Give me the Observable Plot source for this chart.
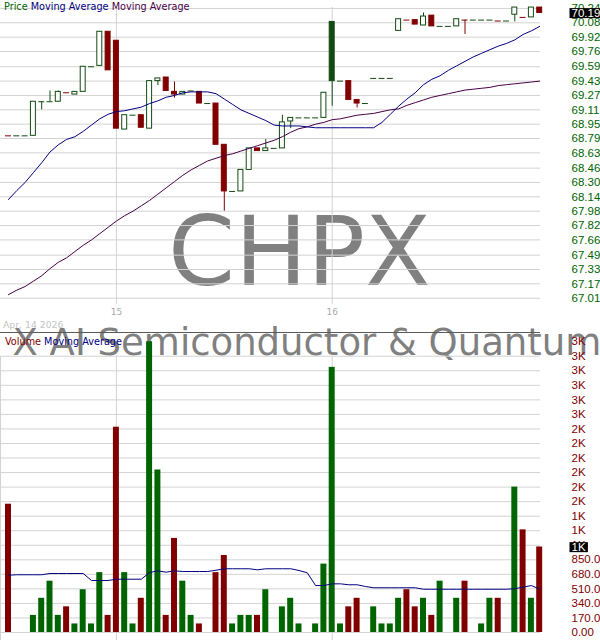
<!DOCTYPE html>
<html>
<head>
<meta charset="utf-8">
<script src="https://cdn.jsdelivr.net/npm/d3@7"></script>
<script src="https://cdn.jsdelivr.net/npm/@observablehq/plot@0.6"></script>
<style>
  html, body { margin: 0; padding: 0; background: #fff; }
  #chart { position: relative; width: 600px; height: 640px; overflow: hidden; background: #fff; }
  #chart > * { position: absolute; left: 0; }
  #bg { top: 0; z-index: 0; }
  #pricePanel { top: 0; z-index: 1; }
  #volumePanel { top: 332px; z-index: 1; border-top: 1px solid #5a5a5a; width: 540px; }
  #volumePanel svg { width: 600px; max-width: none; }
  #fg { top: 0; z-index: 2; pointer-events: none; }
</style>
</head>
<body>
<div id="chart"></div>
<script>
// ---------------- data (15-minute candles, CHPX) ----------------
const ticker = "CHPX";
const fundName = "X AI Semiconductor & Quantum";
const startDate = "Apr, 14 2026";
const dayTicks = [13, 39];
const dayLabels = ["15", "16"];
const priorClose = 68.85;

const open  = [68.82,68.82,68.82,68.82,69.20,69.20,69.20,69.30,69.28,69.31,69.59,69.60,69.98,69.88,68.89,69.05,69.05,68.90,69.43,69.47,
               69.31,69.28,69.32,69.31,69.18,69.18,68.72,68.20,68.20,68.44,68.68,68.65,68.68,68.68,68.98,69.02,69.02,69.02,69.02,70.09,
               69.43,69.43,69.22,69.18,69.46,69.46,69.46,69.99,70.11,70.11,70.05,70.16,70.04,70.04,70.04,70.11,70.11,70.11,70.11,70.10,
               70.10,70.17,70.14,70.14,70.25];
const high  = [68.82,68.82,68.82,69.20,69.20,69.32,69.32,69.30,69.31,69.59,69.59,69.98,69.98,69.88,69.05,69.05,69.05,69.43,69.46,69.47,
               69.42,69.31,69.32,69.31,69.18,69.18,68.72,68.20,68.44,68.68,68.68,68.78,68.68,69.05,69.02,69.02,69.02,69.02,69.30,70.09,
               69.43,69.43,69.22,69.18,69.46,69.46,69.46,70.12,70.11,70.11,70.19,70.16,70.04,70.04,70.12,70.11,70.11,70.11,70.11,70.10,
               70.10,70.25,70.14,70.25,70.25];
const low   = [68.82,68.82,68.82,68.82,69.11,69.20,69.20,69.30,69.28,69.31,69.59,69.60,69.55,68.90,68.89,69.05,68.91,68.90,69.38,69.32,
               69.24,69.28,69.32,69.18,69.18,68.72,67.98,68.20,68.20,68.44,68.65,68.65,68.68,68.68,68.90,69.02,69.02,69.02,69.02,69.15,
               69.43,69.22,69.13,69.18,69.46,69.46,69.46,69.99,70.11,70.06,70.05,70.04,70.04,70.04,70.04,69.95,70.11,70.11,70.11,70.10,
               70.10,70.09,70.14,70.14,70.19];
const close = [68.82,68.82,68.82,69.20,69.20,69.20,69.31,69.30,69.31,69.59,69.59,69.98,69.55,68.90,69.05,69.05,68.91,69.43,69.46,69.32,
               69.28,69.31,69.32,69.18,69.18,68.72,68.20,68.20,68.44,68.68,68.65,68.68,68.68,68.97,69.02,69.02,69.02,69.02,69.30,69.43,
               69.43,69.22,69.18,69.18,69.46,69.46,69.46,70.12,70.11,70.06,70.15,70.04,70.04,70.04,70.12,70.11,70.11,70.11,70.11,70.10,
               70.10,70.25,70.14,70.25,70.19];
const maShort = [68.11,68.21,68.30,68.41,68.52,68.64,68.72,68.78,68.81,68.87,68.94,69.01,69.06,69.09,69.10,69.12,69.14,69.18,69.21,69.25,
                 69.27,69.30,69.31,69.31,69.31,69.29,69.23,69.17,69.11,69.07,69.03,68.99,68.94,68.93,68.93,68.93,68.92,68.91,68.91,68.91,
                 68.91,68.91,68.91,68.91,68.91,68.97,69.06,69.15,69.23,69.30,69.39,69.45,69.49,69.55,69.60,69.65,69.70,69.74,69.78,69.82,
                 69.85,69.89,69.95,69.99,70.04];
const maLong  = [67.05,67.10,67.14,67.20,67.26,67.34,67.41,67.46,67.53,67.60,67.66,67.73,67.80,67.87,67.93,67.98,68.04,68.10,68.17,68.24,
                 68.31,68.38,68.44,68.49,68.54,68.57,68.60,68.62,68.65,68.68,68.71,68.74,68.77,68.81,68.86,68.90,68.92,68.95,68.97,69.00,
                 69.01,69.03,69.05,69.06,69.07,69.09,69.11,69.12,69.16,69.19,69.22,69.25,69.27,69.29,69.31,69.33,69.34,69.35,69.36,69.38,
                 69.39,69.40,69.41,69.42,69.43];
const volume = [1500,0,0,200,400,600,200,300,100,500,100,700,200,2400,700,100,400,3400,1900,200,
                1100,600,200,100,0,700,900,100,200,200,200,500,0,300,400,100,0,100,800,3100,
                100,300,400,0,300,100,100,400,500,300,400,200,600,0,400,600,0,100,400,400,
                0,1700,1200,400,1000];
const volumeMA = [670,675,675,675,675,690,690,690,690,690,608,608,608,623,623,623,623,701,721,705,
                  721,713,713,713,713,728,745,745,745,745,733,745,745,745,745,725,698,549,549,569,
                  569,558,558,538,523,523,523,523,523,523,506,506,506,506,506,506,506,506,506,506,
                  506,512,530,549,506];
const priceTicks = [67.01,67.17,67.33,67.49,67.66,67.82,67.98,68.14,68.30,68.46,68.63,68.79,68.95,69.11,69.27,69.43,69.59,69.76,69.92,70.08,70.24];
const volumeTicks = [0,170,340,510,680,850,1020,1190,1360,1530,1700,1870,2040,2210,2380,2550,2720,2890,3060,3230,3400];

// ---------------- styling ----------------
const G = "#124a12", R = "#800000", VG = "#006400";
const GRID = "#d3d3d3";
const fmtVol = v => v < 1000 ? v.toFixed(2) : Math.round(v / 1000) + "K";

const bars = close.map((c, i) => {
  const prev = i ? close[i - 1] : priorClose;
  return {i, o: open[i], h: high[i], l: low[i], c, v: volume[i],
          up: c >= prev, hollow: c > open[i], flat: c === open[i]};
});
const xScale = {type: "linear", domain: [-0.5, 64.5], range: [3.85, 543.35]};
const baseStyle = {fontFamily: "'Liberation Sans', Arial, sans-serif", fontSize: "11.5px", background: "transparent", overflow: "visible"};

const chart = document.getElementById("chart");
const NS = "http://www.w3.org/2000/svg";

// background layer: watermarks + date
const bg = d3.select(chart).append("svg").attr("id", "bg").attr("width", 600).attr("height", 640);
bg.append("text").text(ticker).attr("x", 168).attr("y", 285)
  .attr("font-family", "DejaVu Sans").attr("font-size", 96).attr("fill", "#808080");
bg.append("text").text(fundName).attr("x", 12.5).attr("y", 355)
  .attr("font-family", "DejaVu Sans").attr("font-size", 37).attr("fill", "#808080");
bg.append("text").text(startDate).attr("x", 3).attr("y", 328)
  .attr("font-family", "DejaVu Sans").attr("font-size", 9.3).attr("fill", "#c4c4c4");

// price panel
const pricePlot = Plot.plot({
  width: 600, height: 332,
  marginLeft: 0, marginRight: 60, marginTop: 7, marginBottom: 28,
  style: baseStyle,
  x: xScale,
  y: {domain: [67.01, 70.08], range: [297.7, 22.3]},
  color: {type: "identity"},
  marks: [
    Plot.gridY(priceTicks, {stroke: GRID, strokeOpacity: 1}),
    Plot.gridX(dayTicks, {stroke: GRID, strokeOpacity: 1}),
    Plot.axisX(dayTicks, {tickSize: 0, tickPadding: 4, tickFormat: d => dayLabels[dayTicks.indexOf(d)],
                          color: "#a8a8a8", fontFamily: "DejaVu Sans", fontSize: 9, label: null}),
    Plot.axisY(priceTicks, {anchor: "right", tickSize: 0, tickPadding: 31, tickFormat: d => d.toFixed(2),
                            color: "#006400", label: null}),
    Plot.ruleX(bars, {x: "i", y1: "l", y2: "h", stroke: d => d.up ? G : R, strokeWidth: 1}),
    Plot.rect(bars.filter(d => !d.flat), {x1: d => d.i - 0.3, x2: d => d.i + 0.3, y1: "o", y2: "c",
      fill: d => d.hollow ? "white" : (d.up ? G : R), stroke: d => d.up ? G : R, strokeWidth: 1}),
    Plot.ruleY(bars.filter(d => d.flat), {y: "c", x1: d => d.i - 0.36, x2: d => d.i + 0.36,
      stroke: d => d.up ? G : R, strokeWidth: 1}),
    Plot.line(maLong, {x: (d, i) => i, y: d => d, stroke: "#4a0048", strokeWidth: 1}),
    Plot.line(maShort, {x: (d, i) => i, y: d => d, stroke: "#000080", strokeWidth: 1}),
    Plot.text([close[close.length - 1]], {y: d => d, frameAnchor: "right", dx: 31, textAnchor: "start",
      text: d => d.toFixed(2), fill: "white"})
  ]
});
const pDiv = document.createElement("div"); pDiv.id = "pricePanel"; pDiv.appendChild(pricePlot); chart.appendChild(pDiv);

// volume panel
const volumePlot = Plot.plot({
  width: 600, height: 307,
  marginLeft: 0, marginRight: 60, marginTop: 23, marginBottom: 0,
  style: baseStyle,
  x: {...xScale, axis: null},
  y: {domain: [0, 3400], range: [299, 8.2], axis: null},
  color: {type: "identity"},
  marks: [
    Plot.gridY(volumeTicks.filter(v => v < 3400), {stroke: GRID, strokeOpacity: 1}),
    Plot.gridX(dayTicks, {stroke: GRID, strokeOpacity: 1}),
    Plot.frame({anchor: "left", stroke: GRID}),
    Plot.axisY(volumeTicks, {anchor: "right", tickSize: 0, tickPadding: 31, tickFormat: fmtVol, color: R, label: null}),
    Plot.rect(bars.filter(d => d.v > 0), {x1: d => d.i - 0.36, x2: d => d.i + 0.36, y1: 0, y2: "v",
      fill: d => d.up ? VG : R}),
    Plot.line(volumeMA, {x: (d, i) => i, y: d => d, stroke: "#000080", strokeWidth: 1}),
    Plot.text([volume[volume.length - 1]], {y: d => d, frameAnchor: "right", dx: 31, textAnchor: "start",
      text: fmtVol, fill: "white"})
  ]
});
const vDiv = document.createElement("div"); vDiv.id = "volumePanel"; vDiv.appendChild(volumePlot); chart.appendChild(vDiv);

// black highlight boxes behind the last-value labels (the white-filled text marks)
function addBox(svg) {
  const texts = Array.from(svg.querySelectorAll("text")).filter(t => {
    let el = t;
    while (el && el !== svg) {
      const f = el.getAttribute && el.getAttribute("fill");
      if (f) return f === "white";
      el = el.parentNode;
    }
    return false;
  });
  texts.forEach(t => {
    const b = t.getBBox();
    const r = document.createElementNS(NS, "rect");
    r.setAttribute("x", b.x - 2); r.setAttribute("y", b.y + 1.5);
    r.setAttribute("width", b.width + 4); r.setAttribute("height", Math.max(0, b.height - 2));
    r.setAttribute("fill", "black");
    const tr = t.getAttribute("transform"); if (tr) r.setAttribute("transform", tr);
    t.parentNode.insertBefore(r, t);
  });
}
addBox(pricePlot);
addBox(volumePlot);

// foreground layer: legends
const fg = d3.select(chart).append("svg").attr("id", "fg").attr("width", 600).attr("height", 640);
const lg1 = fg.append("text").attr("x", 4).attr("y", 9.6).attr("font-family", "DejaVu Sans").attr("font-size", 9.7);
lg1.append("tspan").text("Price").attr("fill", "#006400");
lg1.append("tspan").text(" Moving Average").attr("fill", "#000080");
lg1.append("tspan").text(" Moving Average").attr("fill", "#4a0048");
const lg2 = fg.append("text").attr("x", 5).attr("y", 344.5).attr("font-family", "DejaVu Sans").attr("font-size", 9.7);
lg2.append("tspan").text("Volume").attr("fill", "#800000");
lg2.append("tspan").text(" Moving Average").attr("fill", "#000080");
</script>
</body>
</html>
